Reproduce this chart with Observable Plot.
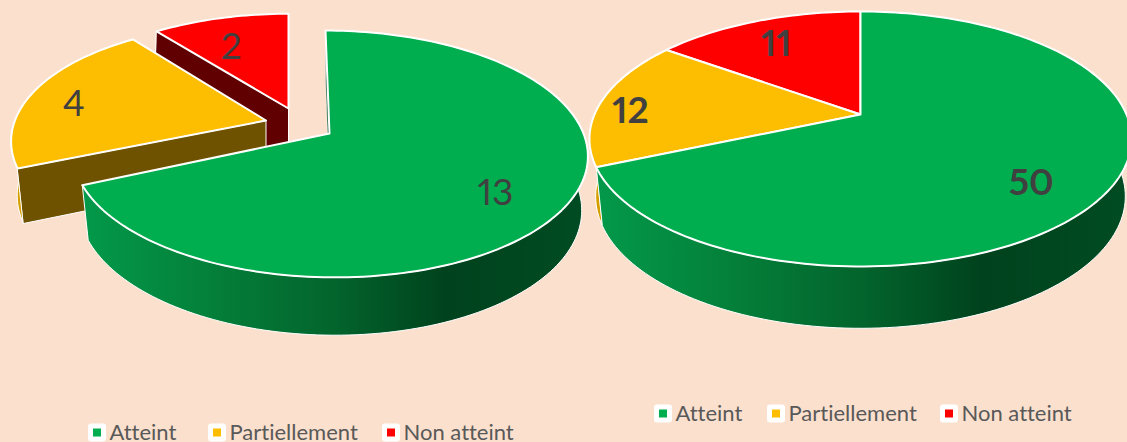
<!DOCTYPE html>
<html>
<head>
<meta charset="utf-8">
<style>
  html, body { margin: 0; padding: 0; background: #FBE0CD; overflow: hidden; }
  svg { display: block; }
  svg text { font-variant-ligatures: none; font-feature-settings: "liga" 0, "pnum" 1; font-variant-numeric: proportional-nums; }
</style>
<script src="https://cdn.jsdelivr.net/npm/d3@7"></script>
<script src="https://cdn.jsdelivr.net/npm/@observablehq/plot@0.6"></script>
</head>
<body>
<div id="chart"></div>
<script>
// ---- data ----
const categories = ["Atteint", "Partiellement", "Non atteint"];
const valuesLeft = [13, 4, 2];
const valuesRight = [50, 12, 11];
const colors = ["#00AD4F", "#FDBD00", "#FF0000"];
const wallColors = ["url(#greenWall)", "#D49E00", "#600000"];
const faceColors = ["#004F24", "#6E5200", "#600000"];

// ---- layout ----
const W = 1127, H = 442;
const font = "Lato, 'Gill Sans', sans-serif";
// perspective disc of each slice: ax, ay apex; A, B radii; k perspective; sk, sx skews; s, d0, d1 bottom-plane mapping
const slicesLeft = [
  {ax: 329, ay: 133, A: 254, B: 120, k: 0.166, sk: 0, sx: 4.66, s: 0.976, d0: 53.5, d1: 0.03},
  {ax: 265.5, ay: 120, A: 250, B: 116.4, k: 0.195, sk: 2.7, sx: 0, s: 0.976, d0: 53.5, d1: 0.03},
  {ax: 288, ay: 108, A: 243, B: 110.5, k: 0.166, sk: 0, sx: 0, s: 1.01, d0: 53, d1: 0.03}
];
const disc = {ax: 860, ay: 114, A: 266, B: 122.8, k: 0.192, sk: 0, sx: 0, s: 0.977, d0: 56.5, d1: 0.035};
const slicesRight = [disc, disc, disc];
const labelLeft = {r: [0.75, 0.797, 0.661], turn: [4.3, -5.3, -4.2], weight: "normal"};
const labelRight = {r: [0.77, 0.869, 0.732], turn: [7.9, -4.6, -1.9], weight: "bold"};

function project(p, thetaDeg, rho) {
  const t = thetaDeg * Math.PI / 180;
  const u = rho * Math.sin(t), v = -rho * Math.cos(t);
  const w = 1 - p.k * v;
  return {x: p.ax + (p.A * u + p.sx * v) / w, y: p.ay + (p.B * v + p.sk * u) / w};
}
function lower(p, q) {
  return {x: p.ax + p.s * (q.x - p.ax), y: q.y + p.d0 + p.d1 * (q.y - p.ay)};
}
function arc(p, t0, t1) {
  const n = Math.max(2, Math.ceil(Math.abs(t1 - t0) / 1.5));
  return d3.range(n + 1).map(i => project(p, t0 + (t1 - t0) * i / n, 1));
}

const poly = (points, fill, strokeWidth) =>
  Plot.line(points, {x: "x", y: "y", curve: "linear-closed", fill, stroke: "white", strokeWidth, strokeLinejoin: "round"});

function pieMarks(values, slices, label, exploded) {
  const total = d3.sum(values);
  const ends = d3.cumsum(values).map(v => v / total * 360);
  const starts = [0, ...ends.slice(0, -1)];
  const apex = p => ({x: p.ax, y: p.ay});
  const marks = [];

  // walls, back to front
  const redP = slices[2], orP = slices[1], grP = slices[0];
  if (exploded) {
    const a = project(redP, starts[2], 1), b = apex(redP);
    marks.push(poly([a, b, lower(redP, b), lower(redP, a)], faceColors[2], 1));
  }
  // orange outer wall and cut face
  const orArc = arc(orP, starts[1], starts[1] + 40);
  marks.push(poly([...orArc, ...orArc.map(q => lower(orP, q)).reverse()], wallColors[1], 1));
  if (exploded) {
    const a = project(orP, starts[1], 1), b = apex(orP);
    marks.push(poly([a, b, lower(orP, b), lower(orP, a)], faceColors[1], 1));
  }
  // green cut face at twelve o'clock, visible only when the slice is pulled out
  if (exploded) {
    const a = project(grP, 0, 1), b = apex(grP);
    marks.push(poly([a, b, lower(grP, b), lower(grP, a)], faceColors[0], 0.5));
  }
  // top faces of the two small slices
  [2, 1].forEach(i => {
    marks.push(poly([apex(slices[i]), ...arc(slices[i], starts[i], ends[i])], colors[i], 2));
  });
  // green outer wall
  const grArc = arc(grP, 80, ends[0]);
  marks.push(poly([...grArc, ...grArc.map(q => lower(grP, q)).reverse()], wallColors[0], 1));
  // green top
  marks.push(poly([apex(grP), ...arc(grP, starts[0], ends[0])], colors[0], 2));

  // value labels
  const labels = values.map((v, i) => {
    const q = project(slices[i], (starts[i] + ends[i]) / 2 + label.turn[i], label.r[i]);
    return {x: q.x, y: q.y, text: String(v)};
  });
  marks.push(Plot.text(labels, {
    x: "x", y: "y", text: "text", fill: "#404040", fontSize: 37, fontFamily: font,
    fontWeight: label.weight, textAnchor: "middle", lineAnchor: "middle"
  }));
  return marks;
}

// legends
const legendLeft = {cy: 432.5, box: [88, 208, 382], text: [109, 229, 403]};
const legendRight = {cy: 413.5, box: [654, 767, 940], text: [675, 788, 961]};
function legendMarks(l) {
  const rows = categories.map((c, i) => ({c, color: colors[i], bx: l.box[i], tx: l.text[i], cy: l.cy}));
  return [
    Plot.rect(rows, {x1: d => d.bx, x2: d => d.bx + 18, y1: d => d.cy - 9, y2: d => d.cy + 9, fill: "white", rx: 3}),
    Plot.rect(rows, {x1: d => d.bx + 5, x2: d => d.bx + 13, y1: d => d.cy - 4, y2: d => d.cy + 4, fill: d => d.color}),
    Plot.text(rows, {x: "tx", y: "cy", text: "c", textAnchor: "start", lineAnchor: "middle",
      fill: "#595959", fontSize: 22, fontFamily: font})
  ];
}

const gradientDefs = () => {
  const defs = d3.create("svg:defs");
  const g = defs.append("linearGradient").attr("id", "greenWall").attr("x1", 0).attr("x2", 1).attr("y1", 0).attr("y2", 0);
  [[0, "#03994A"], [0.25, "#04803A"], [0.5, "#03642C"], [0.72, "#00421D"], [1, "#004C22"]]
    .forEach(([o, c]) => g.append("stop").attr("offset", o).attr("stop-color", c));
  return defs.node();
};

const chart = Plot.plot({
  width: W, height: H,
  margin: 0,
  style: {background: "transparent"},
  x: {domain: [0, W], range: [0, W], axis: null},
  y: {domain: [0, H], range: [0, H], axis: null},
  color: {type: "identity"},
  marks: [
    gradientDefs,
    ...pieMarks(valuesRight, slicesRight, labelRight, false),
    ...pieMarks(valuesLeft, slicesLeft, labelLeft, true),
    ...legendMarks(legendLeft),
    ...legendMarks(legendRight)
  ]
});
document.getElementById("chart").appendChild(chart);
</script>
</body>
</html>
